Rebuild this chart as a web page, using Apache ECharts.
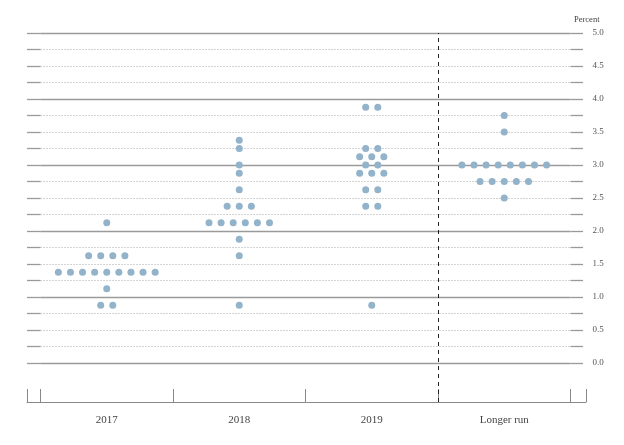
<!DOCTYPE html>
<html>
<head>
<meta charset="utf-8">
<script src="https://cdn.jsdelivr.net/npm/echarts@6/dist/echarts.min.js"></script>
<style>
  body { margin: 0; background: #fff; }
  #main { width: 624px; height: 445px; }
</style>
</head>
<body>
<div id="main"></div>
<script>
// projections: [rate, number of participants]
const columns = ['2017', '2018', '2019', 'Longer run'];
const dots2017 = [[2.125, 1], [1.625, 4], [1.375, 9], [1.125, 1], [0.875, 2]];
const dots2018 = [[3.375, 1], [3.25, 1], [3.0, 1], [2.875, 1], [2.625, 1], [2.375, 3], [2.125, 6], [1.875, 1], [1.625, 1], [0.875, 1]];
const dots2019 = [[3.875, 2], [3.25, 2], [3.125, 3], [3.0, 2], [2.875, 3], [2.625, 2], [2.375, 2], [0.875, 1]];
const dotsLonger = [[3.75, 1], [3.5, 1], [3.0, 8], [2.75, 5], [2.5, 1]];
const yTicks = [0, 0.5, 1, 1.5, 2, 2.5, 3, 3.5, 4, 4.5, 5];

const allDots = [dots2017, dots2018, dots2019, dotsLonger];
const dotStep = 0.0913; // horizontal spacing between dots, in column units

// spread each row of dots around the column centre
let points = [];
allDots.forEach(function (col, ci) {
  col.forEach(function (row) {
    let n = row[1];
    for (let k = 0; k < n; k++) {
      points.push([ci + (k - (n - 1) / 2) * dotStep, row[0]]);
    }
  });
});

const gray = '#9a9a9a';
const font = 'Liberation Serif';
const xMinBottom = -0.602;
const xMaxBottom = 3.617;

let myChart = echarts.init(document.getElementById('main'));
let option = {
  animation: false,
  title: {
    text: 'Percent',
    left: 569,
    top: 10,
    textStyle: { fontSize: 8.5, fontWeight: 'normal', fontFamily: font, color: '#444' }
  },
  grid: [
    { left: 40.5, right: 53.5, top: 33, height: 330 },
    { left: 27, right: 38, top: 33, height: 369 }
  ],
  xAxis: [
    { type: 'value', gridIndex: 0, min: -0.5, max: 3.5, show: false },
    {
      type: 'value', gridIndex: 1, min: xMinBottom, max: xMaxBottom,
      splitLine: { show: false },
      axisLine: { onZero: false, lineStyle: { color: '#888', width: 1 } },
      axisTick: {
        inside: true, length: 13,
        customValues: [xMinBottom, -0.5, 0.5, 1.5, 2.5, 3.5, xMaxBottom],
        lineStyle: { color: '#888' }
      },
      axisLabel: {
        customValues: [0, 1, 2, 3],
        formatter: function (v) { return columns[Math.round(v)]; },
        margin: 13, fontSize: 11, fontFamily: font, color: '#444'
      }
    }
  ],
  yAxis: [
    {
      type: 'value', gridIndex: 0, min: 0, max: 5, interval: 0.25, position: 'left',
      axisLine: { show: false, onZero: false },
      axisTick: { show: true, length: 13.5, lineStyle: { color: gray, width: 1.3 } },
      axisLabel: { show: false },
      splitLine: { show: true, lineStyle: { color: '#a8a8a8', type: [1, 2], width: 1 } }
    },
    {
      type: 'value', gridIndex: 0, min: 0, max: 5, interval: 0.25, position: 'right',
      axisLine: { show: false, onZero: false },
      axisTick: { show: true, length: 12.5, lineStyle: { color: gray, width: 1.3 } },
      axisLabel: {
        margin: 22, fontSize: 9, fontFamily: font, color: '#555',
        formatter: function (v) { return yTicks.indexOf(v) >= 0 ? v.toFixed(1) : ''; }
      },
      splitLine: { show: false }
    },
    {
      type: 'value', gridIndex: 0, min: 0, max: 5, interval: 1,
      axisLine: { show: false, onZero: false }, axisTick: { show: false }, axisLabel: { show: false },
      splitLine: { show: true, lineStyle: { color: gray, width: 1.3 } }
    },
    { type: 'value', gridIndex: 1, min: 0, max: 1, show: false }
  ],
  series: [
    {
      type: 'scatter',
      xAxisIndex: 0,
      yAxisIndex: 0,
      symbolSize: 7,
      itemStyle: { color: '#92b3ca', opacity: 1 },
      data: points,
      z: 5
    },
    {
      type: 'line',
      xAxisIndex: 1,
      yAxisIndex: 3,
      data: [],
      markLine: {
        silent: true,
        symbol: 'none',
        label: { show: false },
        lineStyle: { color: '#222', type: [4, 4], width: 1 },
        data: [{ xAxis: columns.length - 1.5 }]
      }
    }
  ]
};
myChart.setOption(option);
</script>
</body>
</html>
